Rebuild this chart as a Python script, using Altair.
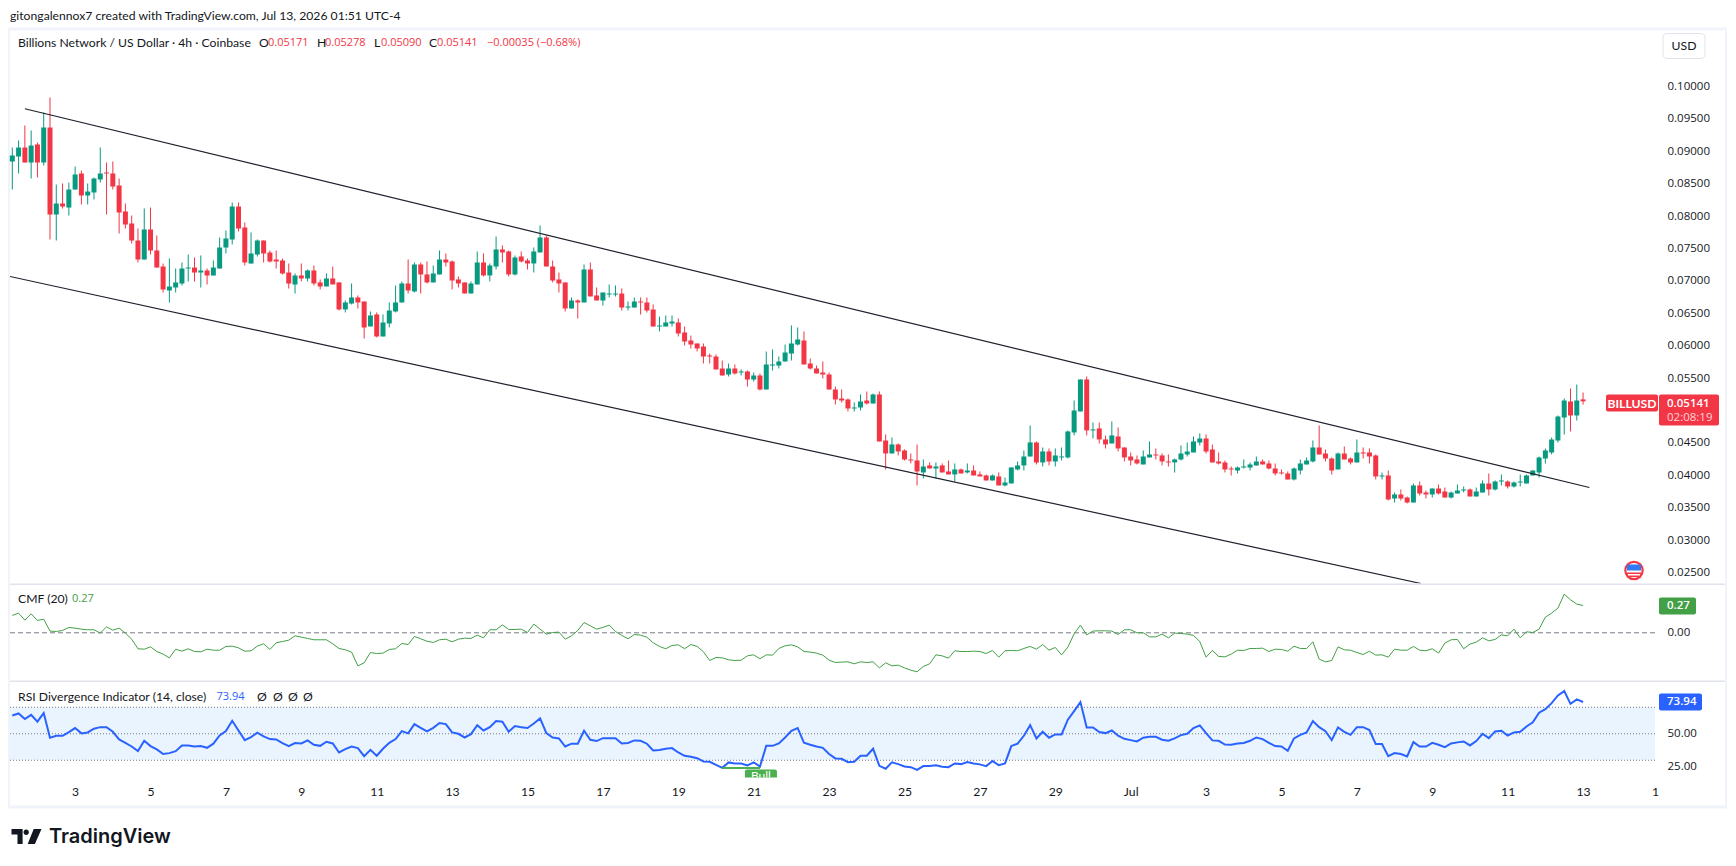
import altair as alt
import pandas as pd

INK = "#131722"
RED = "#f23645"
GREEN = "#089981"
BLUE = "#2962ff"
CMFG = "#43a047"
FRAME = "#f0f3fa"
SEP = "#e0e3eb"
FONT = "Lato"
NUM = "Open Sans"

directions = (
    "GGRGRGRGRG" "GRGGGRRRRR" "RGRRRGGGGR" "GRGGGGRRGG" "RRRRRGRGRR"
    "GRRGGRRGRG" "GGGRGRRGGR" "RRRGGRGGRR" "GRRGGRRRRG" "RGRRGGGRGG"
    "RRRGGGRRRR" "RRRRGRGRGR" "GGGGGGRRRR" "RRRRGGRGRR" "GRRRRGRGRR"
    "GRGRRRGRGG" "GGGRGRGGGG" "GRGRRGRRRR" "GGRRRGGGGG" "RRRRRGGGGR"
    "RRRRGGGGRR" "RGRRGRRRGR" "GRRGRRGRRG" "GGRGGRGGRG" "GGGGGGGGRG" "R"
)
# prices in units of 0.00001
body_top = [
    8935,9058,9058,9089,9105,9367,9367,8194,8194,8410,
    8642,8657,8379,8580,8657,8672,8657,8472,8071,7886,
    7623,7793,7793,7469,7222,6913,6975,7191,7206,7206,
    7160,7160,7206,7515,7654,8148,8148,7824,7423,7623,
    7623,7438,7330,7315,7129,7083,7084,7161,7161,6976,
    7037,7037,6976,6667,6744,6744,6682,6466,6482,6358,
    6543,6667,6960,6960,7253,7253,7099,7114,7330,7330,
    7300,7022,6976,6960,7284,7284,7238,7485,7485,7454,
    7361,7377,7315,7454,7670,7670,7222,7022,6976,6698,
    6698,7176,7176,6775,6821,6805,6805,6805,6605,6682,
    6682,6667,6558,6311,6358,6373,6358,6204,6080,6034,
    5987,5849,5833,5648,5648,5648,5602,5602,5540,5540,
    5710,5710,5756,5895,6034,6096,6080,5725,5648,5586,
    5555,5324,5185,5170,5046,5139,5154,5247,5247,4537,
    4476,4476,4383,4244,4229,4136,4152,4136,4152,4059,
    4090,4090,4074,4074,4013,3997,3997,3982,3889,4121,
    4152,4290,4507,4507,4368,4368,4306,4290,4676,5000,
    5479,5479,4707,4723,4553,4615,4599,4429,4290,4244,
    4290,4321,4321,4306,4213,4244,4336,4367,4522,4568,
    4568,4398,4213,4198,4105,4120,4136,4167,4213,4213,
    4182,4105,4043,4028,4105,4182,4228,4429,4429,4336,
    4259,4336,4336,4259,4352,4352,4352,4306,3997,3997,
    3704,3704,3657,3843,3843,3735,3796,3796,3750,3734,
    3765,3781,3781,3750,3873,3873,3904,3920,3904,3889,
    3904,3997,4074,4274,4383,4552,4907,5154,5139,5154,
    5171,
]
body_bottom = [
    8842,8919,8827,8827,8827,8827,8024,8024,8148,8132,
    8410,8318,8318,8364,8565,8657,8456,8055,7870,7623,
    7330,7330,7469,7206,6867,6852,6898,6959,7191,7129,
    7129,7083,7083,7191,7515,7639,7808,7284,7268,7407,
    7423,7299,7299,7114,6959,6944,7037,7037,6960,6914,
    6914,6945,6559,6559,6651,6667,6281,6297,6142,6142,
    6343,6528,6667,6852,6837,7099,6976,6976,7099,7284,
    7006,6960,6806,6806,6945,7084,7084,7222,7439,7099,
    7099,7300,7269,7269,7439,7222,7006,6960,6574,6574,
    6667,6667,6760,6698,6697,6790,6790,6589,6589,6589,
    6667,6543,6296,6296,6296,6342,6188,6065,6018,5957,
    5833,5833,5633,5540,5555,5571,5586,5478,5478,5324,
    5324,5694,5694,5756,5879,6018,5710,5648,5571,5555,
    5324,5170,5154,5031,5031,5046,5108,5108,4522,4337,
    4337,4368,4244,4229,4059,4044,4105,4105,4044,4013,
    4013,4028,4044,3997,3982,3920,3920,3843,3843,3874,
    4090,4152,4290,4198,4198,4213,4213,4275,4275,4661,
    4985,4692,4692,4553,4476,4491,4414,4275,4229,4183,
    4167,4275,4306,4213,4198,4198,4244,4321,4352,4506,
    4367,4198,4182,4090,4090,4074,4120,4120,4151,4167,
    4105,4028,4028,3935,3935,4074,4167,4213,4321,4259,
    4074,4090,4244,4198,4198,4336,4290,3982,3982,3627,
    3642,3642,3580,3580,3719,3704,3704,3719,3657,3657,
    3719,3765,3673,3673,3734,3781,3781,3904,3827,3827,
    3889,3873,3997,4043,4259,4352,4537,4892,4923,4923,
    5141,
]
wick_high = [
    9058,9166,9398,9321,9136,9599,9830,8487,8503,8518,
    8765,8703,8503,8595,9058,8827,8842,8580,8194,8009,
    7808,8117,8132,7700,7268,7345,7191,7284,7407,7361,
    7392,7191,7315,7670,7778,8210,8210,7901,7747,7639,
    7623,7469,7469,7345,7268,7114,7269,7176,7238,7022,
    7114,7222,6976,6698,6960,6775,6682,6528,6513,6482,
    6667,6929,6991,7330,7284,7284,7300,7238,7469,7423,
    7315,7068,6976,6991,7454,7423,7269,7685,7547,7469,
    7392,7454,7346,7516,7855,7701,7315,7130,6976,6744,
    6713,7253,7284,6898,6821,6944,6929,6883,6682,6744,
    6744,6744,6636,6450,6466,6466,6420,6296,6157,6034,
    6034,5879,5864,5771,5725,5710,5633,5617,5586,5571,
    5910,5941,5833,6018,6312,6281,6219,5802,5694,5756,
    5586,5370,5324,5185,5123,5247,5293,5262,5294,4630,
    4584,4491,4399,4337,4476,4244,4198,4198,4183,4229,
    4183,4105,4183,4152,4059,4013,4013,4044,3966,4121,
    4213,4383,4769,4522,4429,4414,4414,4429,4692,5155,
    5479,5525,4815,4815,4615,4831,4738,4429,4352,4306,
    4383,4522,4414,4337,4321,4259,4460,4506,4599,4645,
    4630,4475,4352,4228,4136,4136,4244,4198,4290,4244,
    4228,4182,4090,4059,4120,4244,4275,4537,4769,4398,
    4275,4352,4444,4275,4552,4429,4414,4321,4043,4074,
    3735,3781,3673,3873,3904,3765,3796,3858,3811,3750,
    3858,3827,3796,3811,3920,4028,3920,4012,3920,3904,
    4012,4012,4074,4290,4414,4583,4923,5185,5339,5401,
    5278,
]
wick_low = [
    8410,8657,8827,8580,8595,8781,7639,7623,8117,8009,
    8410,8179,8179,8256,8518,8024,8410,7731,7808,7577,
    7284,7330,7407,7206,6821,6666,6821,6929,6990,6990,
    6898,6944,7083,7191,7423,7562,7762,7238,7268,7376,
    7284,7284,7191,7098,6882,6805,6991,6991,6929,6868,
    6914,6945,6543,6513,6636,6574,6111,6297,6127,6142,
    6281,6513,6667,6806,6821,6806,6960,6976,7099,7222,
    6868,6898,6806,6806,6945,7068,6991,7176,7284,7068,
    7084,7284,7176,7130,7439,7222,6976,6821,6528,6574,
    6420,6667,6760,6698,6620,6744,6759,6543,6543,6589,
    6481,6512,6296,6219,6296,6296,6142,6003,5957,5910,
    5725,5725,5633,5540,5525,5555,5540,5370,5447,5309,
    5324,5617,5648,5756,5771,6003,5710,5633,5571,5494,
    5324,5092,5123,4985,4985,5000,5092,5108,4522,4090,
    4337,4306,4229,4183,3843,3951,4105,3951,4044,4013,
    3905,4028,4028,3997,3982,3920,3920,3843,3828,3874,
    4074,4074,4290,4167,4136,4152,4136,4229,4260,4615,
    4985,4615,4568,4491,4414,4491,4368,4213,4152,4167,
    4167,4275,4244,4152,4136,4043,4228,4290,4352,4460,
    4336,4198,4167,4043,3997,4028,4105,4074,4151,4167,
    4090,3997,4012,3935,3920,4012,4167,4198,4321,4213,
    4012,4090,4244,4167,4198,4259,4182,3935,3935,3611,
    3580,3611,3565,3580,3688,3642,3657,3704,3657,3642,
    3719,3734,3673,3673,3734,3688,3765,3843,3796,3811,
    3827,3873,3997,3966,4182,4321,4506,4629,4676,4845,
    5090,
]
rsi_values = [
    63.8,65.3,61.1,64.3,59.1,65.6,47.0,48.5,48.5,51.3,
    54.3,50.3,51.0,53.8,55.0,55.0,51.5,45.7,43.2,40.4,
    36.9,44.7,40.7,38.2,34.7,35.4,36.9,41.2,41.2,40.4,
    40.7,39.4,42.5,48.7,52.0,59.8,52.5,45.2,47.5,50.8,
    48.0,46.0,45.7,43.0,40.7,43.0,42.7,45.0,41.7,40.9,
    44.0,42.7,35.9,38.4,40.4,39.2,33.1,37.9,33.4,38.7,
    43.2,46.0,52.0,50.3,57.3,54.5,51.8,54.5,58.1,57.3,
    51.0,50.0,47.2,49.7,56.5,52.5,55.0,59.6,59.1,51.5,
    55.8,55.0,54.3,57.8,61.6,50.5,47.2,46.5,40.4,42.5,
    42.5,52.3,45.5,44.5,46.7,46.7,46.7,42.7,43.0,45.0,
    44.7,42.5,37.4,37.7,38.7,39.2,35.9,33.4,32.6,31.6,
    29.1,28.9,26.6,24.3,28.4,27.6,27.6,26.1,28.4,25.3,
    40.9,40.9,42.7,47.2,52.3,54.3,43.2,41.7,40.4,39.4,
    34.7,31.4,31.1,28.6,28.9,33.4,33.4,38.7,25.8,23.6,
    28.4,27.1,25.3,24.8,22.8,25.6,25.6,26.3,25.1,24.8,
    27.6,27.1,28.6,27.6,26.9,25.6,29.4,26.3,27.6,40.7,
    42.5,48.5,56.5,46.5,51.5,47.0,49.5,49.5,60.6,67.1,
    73.9,54.8,54.8,51.3,50.5,52.5,48.5,46.2,45.2,44.2,
    47.0,47.7,47.7,45.5,44.7,46.5,49.0,50.0,54.3,56.3,
    50.5,45.0,44.7,41.9,41.7,42.7,43.0,44.7,47.2,46.0,
    43.2,40.7,40.4,37.2,46.5,49.2,51.0,59.6,55.0,52.0,
    45.2,54.8,51.5,49.2,55.0,55.0,52.8,42.2,42.2,33.1,
    35.4,34.7,32.9,43.7,40.4,40.4,43.2,41.7,39.9,42.7,
    43.5,44.2,41.2,44.5,50.0,46.7,51.8,52.3,48.7,51.0,
    51.5,55.5,58.6,65.9,68.6,73.1,78.9,82.2,72.6,75.9,
    73.94,
]
cmf_values = [
    .172,.195,.125,.188,.122,.135,.017,.013,.023,.053,
    .046,.036,.030,.030,-.003,.059,.026,.046,-.003,-.063,
    -.158,-.162,-.139,-.185,-.211,-.248,-.162,-.182,-.158,-.185,
    -.188,-.162,-.172,-.172,-.135,-.132,-.149,-.182,-.178,-.132,
    -.109,-.165,-.099,-.086,-.073,-.030,-.043,-.056,-.069,-.069,
    -.069,-.109,-.155,-.168,-.191,-.327,-.297,-.195,-.205,-.201,
    -.165,-.158,-.106,-.116,-.036,-.059,-.083,-.096,-.069,-.063,
    -.089,-.063,-.053,-.056,-.023,-.050,.030,.030,.079,.033,
    .033,.036,.003,.086,.036,-.013,.003,.007,-.063,-.030,
    .023,.102,.069,.036,.053,.076,.013,-.026,-.059,-.017,
    -.023,-.043,-.099,-.135,-.158,-.125,-.119,-.158,-.116,-.135,
    -.188,-.274,-.244,-.248,-.267,-.274,-.271,-.228,-.218,-.257,
    -.218,-.221,-.155,-.129,-.119,-.139,-.185,-.191,-.201,-.221,
    -.271,-.294,-.290,-.287,-.307,-.287,-.294,-.287,-.347,-.297,
    -.327,-.320,-.347,-.370,-.386,-.333,-.307,-.218,-.228,-.251,
    -.178,-.185,-.185,-.182,-.185,-.205,-.175,-.241,-.178,-.175,
    -.178,-.155,-.135,-.162,-.116,-.172,-.145,-.218,-.142,-.010,
    .076,-.020,.017,.020,.020,.017,-.017,.030,.030,0,
    0,-.040,-.040,-.013,-.050,-.003,-.007,-.013,-.026,-.086,
    -.241,-.175,-.234,-.238,-.211,-.172,-.175,-.155,-.155,-.152,
    -.185,-.162,-.165,-.182,-.132,-.155,-.155,-.089,-.261,-.287,
    -.274,-.139,-.168,-.172,-.195,-.215,-.182,-.221,-.218,-.241,
    -.162,-.172,-.172,-.135,-.172,-.178,-.158,-.201,-.102,-.069,
    -.066,-.158,-.112,-.092,-.050,-.079,-.066,-.020,-.030,.036,
    -.050,.010,.003,.036,.155,.195,.244,.383,.327,.284,
    .27,
]
channel_upper_i = [2.0, 251.0]
channel_upper_p = [0.09656, 0.03812]
channel_lower_i = [-0.37, 224.2]
channel_lower_p = [0.07068, 0.02330]
price_ticks = [0.025,0.03,0.035,0.04,0.045,0.055,0.06,0.065,0.07,0.075,0.08,0.085,0.09,0.095,0.10]
time_ticks = [10,22,34,46,58,70,82,94,106,118,130,142,154,166,178,190,202,214,226,238,250,261.45]
time_labels = ["3","5","7","9","11","13","15","17","19","21","23","25","27","29","Jul","3","5","7","9","11","13","1"]
rsi_bands = [70, 50, 30]
bull_i = [113, 119]
bull_rsi = [24.1, 24.1]

W, H1, H2, H3 = 1645, 553, 97, 97
X0, Y1, Y2, Y3 = 10, 30, 583, 680
x_scale = alt.Scale(domain=[-0.366, 261.45], nice=False, zero=False, padding=0)
price_scale = alt.Scale(domain=[0.02330, 0.10864], nice=False, zero=False, padding=0)
cmf_scale = alt.Scale(domain=[-0.472, 0.488], nice=False, zero=False, padding=0)
rsi_scale = alt.Scale(domain=[17, 90.2], nice=False, zero=False, padding=0)

candles = pd.DataFrame({
    "i": range(len(directions)), "dir": list(directions),
    "top": [v / 1e5 for v in body_top], "bottom": [v / 1e5 for v in body_bottom],
    "high": [v / 1e5 for v in wick_high], "low": [v / 1e5 for v in wick_low],
})
lines = pd.DataFrame({"i": range(len(directions)), "rsi": rsi_values, "cmf": cmf_values})
ONE = alt.Data(values=[{"a": 1}])


def label(text, x, y, ox, oy, color=INK, size=12.2, align="left", weight="normal", font=FONT):
    return alt.Chart(ONE).mark_text(text=text, align=align, baseline="middle", color=color, fontSize=size,
                                    font=font, fontWeight=weight).encode(x=alt.value(x - ox), y=alt.value(y - oy))


def num(text, x, y, ox, oy, color=INK, size=11, align="left", weight="normal"):
    return label(text, x, y, ox, oy, color, size, align, weight, NUM)


def box(x0, x1, y0, y1, ox, oy, color, radius=0, stroke=None):
    kw = {"cornerRadius": radius} if radius else {}
    if stroke:
        kw.update(stroke=stroke, strokeWidth=1)
    return alt.Chart(ONE).mark_rect(color=color, **kw).encode(
        x=alt.value(x0 - ox), x2=alt.value(x1 - ox), y=alt.value(y0 - oy), y2=alt.value(y1 - oy))


X_noaxis = alt.X("i:Q", scale=x_scale, axis=None)
cdir = alt.Color("dir:N", scale=alt.Scale(domain=["G", "R"], range=[GREEN, RED]), legend=None)
price_axis = alt.Axis(orient="right", values=price_ticks, format=".5f", title=None, labelPadding=12)

wicks = alt.Chart(candles).mark_rule(strokeWidth=1).encode(
    x=X_noaxis, y=alt.Y("low:Q", scale=price_scale, axis=price_axis), y2="high:Q", color=cdir)
bodies = alt.Chart(candles).mark_bar(size=5).encode(
    x=X_noaxis, y=alt.Y("top:Q", scale=price_scale, axis=price_axis), y2="bottom:Q", color=cdir)


def channel(ix, ps):
    d = pd.DataFrame({"i": ix, "p": ps})
    return alt.Chart(d).mark_line(color="#1e222d", strokeWidth=1.2, clip=True).encode(
        x=X_noaxis, y=alt.Y("p:Q", scale=price_scale, axis=price_axis))


RIGHT = 1725
top_legend = [
    label("gitongalennox7 created with TradingView.com, Jul 13, 2026 01:51 UTC-4", 10, 15, X0, Y1),
    label("Billions Network / US Dollar · 4h · Coinbase", 18, 42, X0, Y1),
    label("O", 259, 42, X0, Y1), num("0.05171", 268, 42, X0, Y1, RED),
    label("H", 317, 42, X0, Y1), num("0.05278", 325, 42, X0, Y1, RED),
    label("L", 374, 42, X0, Y1), num("0.05090", 381, 42, X0, Y1, RED),
    label("C", 429, 42, X0, Y1), num("0.05141", 437, 42, X0, Y1, RED),
    num("−0.00035 (−0.68%)", 487, 42, X0, Y1, RED),
]
usd = [box(1663, 1705, 33, 58, X0, Y1, "#ffffff", 4, SEP), label("USD", 1684, 45.5, X0, Y1, align="center")]
badges = [
    box(1606, 1658, 394, 411, X0, Y1, RED, 2),
    box(1659, 1719, 394, 425, X0, Y1, RED, 2),
    label("BILLUSD", 1632, 403, X0, Y1, "#ffffff", weight="bold", align="center"),
    num("0.05141", 1667, 403, X0, Y1, "#ffffff", size=11.5, weight=600),
    num("02:08:19", 1667, 417, X0, Y1, "#ffd5da", size=11.5),
]
flag_cx, flag_cy = 1634 - X0, 570 - Y1
flag = [
    alt.Chart(ONE).mark_circle(color="#f23645", size=380, opacity=1).encode(x=alt.value(flag_cx), y=alt.value(flag_cy)),
    alt.Chart(ONE).mark_circle(color="#ffffff", size=230, opacity=1).encode(x=alt.value(flag_cx), y=alt.value(flag_cy)),
    box(1627, 1641, 564, 570, X0, Y1, "#3179f5"),
    box(1627, 1641, 572, 573.5, X0, Y1, "#f23645"),
    box(1629, 1639, 575, 576.5, X0, Y1, "#f23645"),
]
frame_top = [
    box(X0 - 2, RIGHT + 2, Y1 - 3, Y1, X0, Y1, FRAME),
    box(X0 - 2, X0, Y1, Y2, X0, Y1, FRAME),
    box(RIGHT, RIGHT + 2, Y1, Y2, X0, Y1, FRAME),
]
main = alt.layer(
    *frame_top, wicks, bodies,
    channel(channel_upper_i, channel_upper_p), channel(channel_lower_i, channel_lower_p),
    *top_legend, *usd, *badges, *flag,
).properties(width=W, height=H1)

# CMF pane
cmf_axis = alt.Axis(orient="right", values=[0], format=".2f", title=None, labelPadding=12)
zero = alt.Chart(pd.DataFrame({"v": [0]})).mark_rule(color="#787b86", strokeDash=[5, 3], strokeWidth=1).encode(
    y=alt.Y("v:Q", scale=cmf_scale, axis=cmf_axis), x=alt.value(0), x2=alt.value(W))
cmf_line = alt.Chart(lines).mark_line(color=CMFG, strokeWidth=1).encode(
    x=X_noaxis, y=alt.Y("cmf:Q", scale=cmf_scale, axis=cmf_axis))
cmf_pane = alt.layer(
    box(X0 - 2, X0, Y2, Y3, X0, Y2, FRAME), box(RIGHT, RIGHT + 2, Y2, Y3, X0, Y2, FRAME),
    box(X0, RIGHT, Y2, Y2 + 1.5, X0, Y2, SEP),
    zero, cmf_line,
    label("CMF (20)", 18, 598.5, X0, Y2), num("0.27", 72, 598.5, X0, Y2, CMFG),
    box(1659, 1696, 597, 614, X0, Y2, CMFG, 2),
    num("0.27", 1667, 605.5, X0, Y2, "#ffffff", size=11.5, weight=600),
).properties(width=W, height=H2)

# RSI pane
label_expr = "{}[indexof({}, datum.value)]".format(str(time_labels), str(time_ticks))
time_axis = alt.Axis(values=time_ticks, labelExpr=label_expr, title=None, labelOverlap=False, labelFlush=False,
                     labelBound=False, labelPadding=8, grid=False, labelFont=FONT, labelFontSize=12.2)
X_time = alt.X("i:Q", scale=x_scale, axis=time_axis)
rsi_axis = alt.Axis(orient="right", values=[25, 50], format=".2f", title=None, labelPadding=12)
band = alt.Chart(pd.DataFrame({"hi": [rsi_bands[0]], "lo": [rsi_bands[2]]})).mark_rect(color="#e9f4fe").encode(
    x=alt.value(0), x2=alt.value(W), y=alt.Y("hi:Q", scale=rsi_scale, axis=rsi_axis), y2="lo:Q")
band_lines = alt.Chart(pd.DataFrame({"v": rsi_bands})).mark_rule(color="#787b86", strokeDash=[1, 2], strokeWidth=1).encode(
    y=alt.Y("v:Q", scale=rsi_scale, axis=rsi_axis), x=alt.value(0), x2=alt.value(W))
rsi_line = alt.Chart(lines).mark_line(color=BLUE, strokeWidth=2).encode(
    x=X_time, y=alt.Y("rsi:Q", scale=rsi_scale, axis=rsi_axis))
bull_line = alt.Chart(pd.DataFrame({"i": bull_i, "v": bull_rsi})).mark_line(color="#4caf50", strokeWidth=2).encode(
    x=X_time, y=alt.Y("v:Q", scale=rsi_scale, axis=rsi_axis))
bull_box = alt.Chart(pd.DataFrame({"a": [116.6], "b": [121.7], "c": [23.1], "d": [17]})).mark_rect(
    color="#4caf50", cornerRadiusTopLeft=2, cornerRadiusTopRight=2).encode(
    x=alt.X("a:Q", scale=x_scale, axis=time_axis), x2="b:Q", y=alt.Y("c:Q", scale=rsi_scale, axis=rsi_axis), y2="d:Q")
bull_text = alt.Chart(pd.DataFrame({"a": [119.15], "c": [17.8]})).mark_text(
    text="Bull", color="#ffffff", font=FONT, fontSize=12, clip=True).encode(
    x=alt.X("a:Q", scale=x_scale, axis=time_axis), y=alt.Y("c:Q", scale=rsi_scale, axis=rsi_axis))
logo_path = ("M-.5-.25H-.13V.25H-.3V-.07H-.5Z"
             "M-.1-.14a.09.09 0 1 0 .18 0a.09.09 0 1 0-.18 0Z"
             "M.04.25L.24-.25H.5L.28.25Z")
logo = alt.Chart(ONE).mark_point(shape=logo_path, filled=True, size=3600, color=INK, opacity=1).encode(
    x=alt.value(26.5 - X0), y=alt.value(836 - Y3))
rsi_pane = alt.layer(
    box(X0 - 2, X0, Y3, 805, X0, Y3, FRAME), box(RIGHT, RIGHT + 2, Y3, 805, X0, Y3, FRAME),
    box(X0 - 2, RIGHT + 2, 805, 808, X0, Y3, FRAME),
    box(X0, RIGHT, Y3, Y3 + 1.5, X0, Y3, SEP),
    band, band_lines, rsi_line, bull_line, bull_box, bull_text,
    label("RSI Divergence Indicator (14, close)", 18, 696, X0, Y3),
    num("73.94", 216.5, 696, X0, Y3, BLUE),
    label("Ø", 257, 696, X0, Y3), label("Ø", 273, 696, X0, Y3), label("Ø", 288, 696, X0, Y3), label("Ø", 303, 696, X0, Y3),
    box(1659, 1702, 693, 710, X0, Y3, BLUE, 2),
    num("73.94", 1667, 701.5, X0, Y3, "#ffffff", size=11.5, weight=600),
    logo,
    label("TradingView", 49, 836, X0, Y3, INK, size=20, weight=600, font="Inter"),
).properties(width=W, height=H3)

chart = alt.vconcat(main, cmf_pane, rsi_pane, spacing=0).properties(
    padding={"left": 0, "top": 1.5, "right": 0, "bottom": 0}).configure_view(stroke=None).configure_axis(
    labelFont=NUM, labelFontSize=11.5, labelColor=INK, domain=False, ticks=False, grid=False)

chart.save("out.html", embed_options={"renderer": "svg", "actions": False})
